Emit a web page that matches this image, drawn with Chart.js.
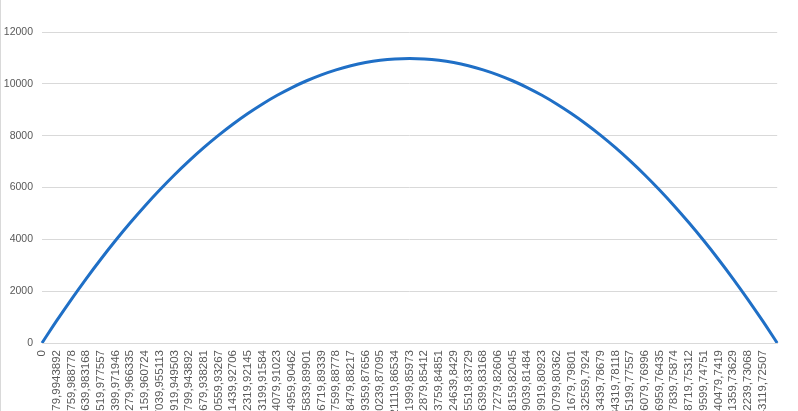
<!DOCTYPE html>
<html lang="en">
<head>
  <meta charset="UTF-8" />
  <title>Trajectory</title>
  <style>
    html, body {
      margin: 0;
      padding: 0;
      background: #ffffff;
      overflow: hidden;
    }
    #wrap {
      position: relative;
      width: 798px;
      height: 430px;
      border-left: 1px solid #d9d9d9;
      box-sizing: border-box;
    }
  </style>
</head>
<body>
  <div id="wrap"><canvas id="chart"></canvas></div>

  <script src="https://cdn.jsdelivr.net/npm/chart.js"></script>
  <script>
    // distance labels (category axis), as printed by the spreadsheet
    const distances = [
      '0', '879,9943892', '1759,988778', '2639,983168', '3519,977557', '4399,971946',
      '5279,966335', '6159,960724', '7039,955113', '7919,949503', '8799,943892',
      '9679,938281', '10559,93267', '11439,92706', '12319,92145', '13199,91584',
      '14079,91023', '14959,90462', '15839,89901', '16719,89339', '17599,88778',
      '18479,88217', '19359,87656', '20239,87095', '21119,86534', '21999,85973',
      '22879,85412', '23759,84851', '24639,8429', '25519,83729', '26399,83168',
      '27279,82606', '28159,82045', '29039,81484', '29919,80923', '30799,80362',
      '31679,79801', '32559,7924', '33439,78679', '34319,78118', '35199,77557',
      '36079,76996', '36959,76435', '37839,75874', '38719,75312', '39599,74751',
      '40479,7419', '41359,73629', '42239,73068', '43119,72507', '43999,71946'
    ];

    // height values
    const heights = [
      0, 861, 1687, 2477, 3233, 3953, 4638, 5288, 5903, 6483, 7027,
      7537, 8011, 8450, 8854, 9223, 9557, 9856, 10119, 10348, 10541,
      10699, 10822, 10910, 10962, 10980, 10962, 10910, 10822, 10699, 10541,
      10348, 10119, 9856, 9557, 9223, 8854, 8450, 8011, 7537, 7027,
      6483, 5903, 5288, 4638, 3953, 3233, 2477, 1687, 861, 0
    ];

    const yTicks = [0, 2000, 4000, 6000, 8000, 10000, 12000];

    const TEXT = '#595959';
    const GRID = '#d9d9d9';
    const Y_FONT = { family: "'Liberation Sans', Arial, sans-serif", size: 10.5 };
    const X_FONT = { family: "'Liberation Sans', Arial, sans-serif", size: 11.5 };

    new Chart(document.getElementById('chart').getContext('2d'), {
      type: 'line',
      data: {
        labels: distances,
        datasets: [{
          data: heights,
          borderColor: '#1f6fc6',
          borderWidth: 3,
          pointRadius: 0,
          tension: 0.4,
          fill: false
        }]
      },
      options: {
        responsive: true,
        maintainAspectRatio: false,
        animation: false,
        layout: { padding: { top: 32, right: 16, left: 0, bottom: 0 } },
        plugins: { legend: { display: false }, tooltip: { enabled: false } },
        scales: {
          x: {
            offset: false,
            grid: { display: false, drawTicks: false },
            border: { display: true, color: GRID, width: 1 },
            ticks: {
              autoSkip: false,
              maxRotation: 90,
              minRotation: 90,
              padding: 7,
              color: TEXT,
              font: X_FONT,
              callback: function (v, i) { return i === distances.length - 1 ? '' : distances[i]; }
            },
            afterFit: function (scale) { scale.height = 87; }
          },
          y: {
            min: yTicks[0],
            max: yTicks[yTicks.length - 1],
            grid: { color: GRID, drawTicks: false },
            border: { display: false },
            afterBuildTicks: function (scale) { scale.ticks = yTicks.map(v => ({ value: v })); },
            ticks: {
              padding: 9,
              color: TEXT,
              font: Y_FONT,
              callback: function (v) { return String(v); }
            },
            afterFit: function (scale) { scale.width = 41; }
          }
        }
      }
    });
  </script>
</body>
</html>
